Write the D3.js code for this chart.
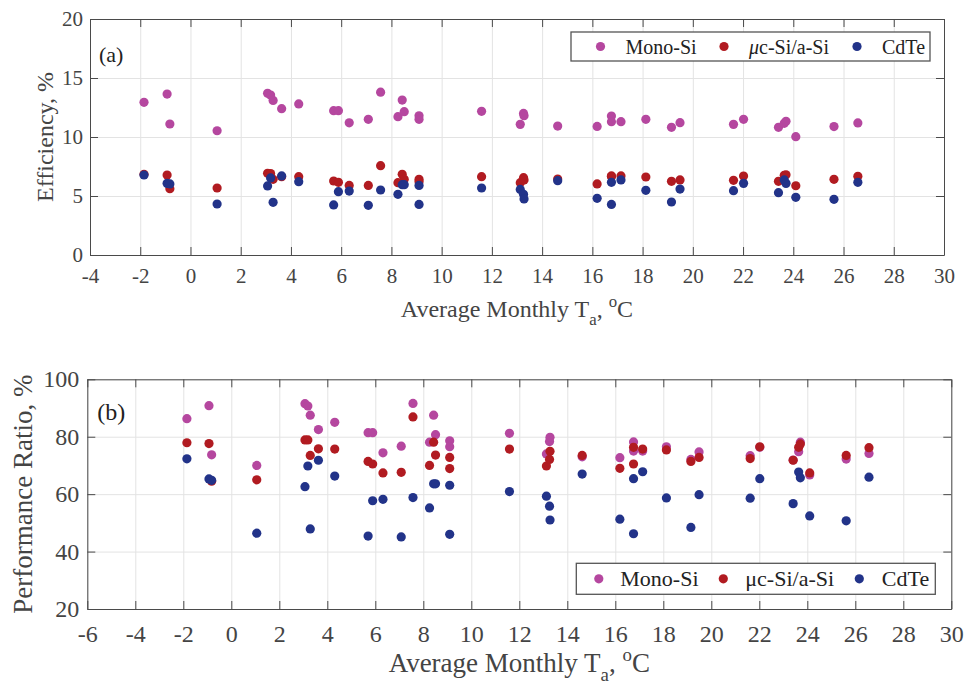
<!DOCTYPE html>
<html>
<head>
<meta charset="utf-8">
<script src="https://cdn.jsdelivr.net/npm/d3@7"></script>
<style>
  body { margin: 0; background: #fff; }
  svg, svg text { font-family: "Liberation Serif", "Times New Roman", serif; }
  .grid line { stroke: #e3e3e3; stroke-width: 1; }
  .grid path { display: none; }
  .axis path, .axis line { stroke: #4a4a4a; stroke-width: 1; }
  .axis text { fill: #444; }
</style>
</head>
<body>
<div id="chart"></div>
<script>
// average monthly ambient temperature, degC (shared by both panels)
const tempA = [-1.85, -0.93, -0.82, 1.06, 3.07, 3.19, 3.29, 3.63, 4.31, 5.70, 5.89, 6.32, 7.08,
  7.57, 8.26, 8.43, 8.51, 9.10, 9.10, 11.59, 13.13, 13.26, 13.28, 14.62, 16.19, 16.76, 16.76,
  17.14, 18.13, 19.15, 19.49, 21.62, 22.02, 23.41, 23.64, 23.71, 24.10, 25.62, 26.57];

// (a) efficiency, %
const effMono = [12.94, 13.64, 11.10, 10.53, 13.70, 13.56, 13.10, 12.40, 12.80, 12.23, 12.23, 11.20, 11.50,
  13.80, 11.72, 13.13, 12.15, 11.80, 11.50, 12.18, 11.07, 12.00, 11.80, 10.93, 10.90, 11.78, 11.30,
  11.30, 11.50, 10.82, 11.21, 11.07, 11.50, 10.82, 11.16, 11.33, 10.03, 10.88, 11.19];
const effMicro = [6.84, 6.78, 5.62, 5.68, 6.92, 6.90, 6.41, 6.64, 6.64, 6.27, 6.16, 5.90, 5.90,
  7.57, 6.13, 6.84, 6.41, 6.41, 6.21, 6.64, 6.13, 6.55, 6.36, 6.44, 6.02, 6.70, 6.65,
  6.70, 6.61, 6.24, 6.36, 6.33, 6.69, 6.24, 6.75, 6.80, 5.87, 6.41, 6.67];
const effCdTe = [6.78, 6.07, 6.02, 4.32, 5.85, 6.53, 4.46, 6.70, 6.21, 4.24, 5.37, 5.42, 4.21,
  5.51, 5.14, 5.96, 5.96, 5.90, 4.29, 5.68, 5.56, 5.14, 4.75, 6.30, 4.80, 6.16, 4.29,
  6.36, 5.48, 4.49, 5.59, 5.45, 6.07, 5.28, 6.36, 6.07, 4.89, 4.72, 6.16];

// (b) performance ratio, %
const prMono = [86.3, 90.8, 73.7, 70.0, 91.5, 90.7, 87.5, 82.5, 85.0, 81.4, 81.4, 74.4, 76.7,
  91.6, 78.1, 87.5, 80.7, 78.6, 76.5, 81.2, 74.0, 78.3, 79.8, 73.0, 72.7, 78.2, 75.0,
  75.0, 76.5, 72.1, 74.7, 73.4, 76.3, 71.9, 74.8, 78.1, 66.7, 72.2, 74.2];
const prMicro = [77.9, 77.6, 64.5, 65.0, 78.9, 78.9, 73.5, 75.8, 75.7, 71.4, 70.5, 67.4, 67.6,
  86.9, 70.0, 78.1, 73.6, 72.8, 68.9, 75.7, 69.8, 72.1, 74.9, 73.5, 69.0, 76.3, 70.5,
  75.7, 75.4, 71.4, 72.8, 72.4, 76.5, 71.8, 76.3, 77.5, 67.4, 73.5, 76.2];
const prCdTe = [72.3, 65.3, 64.8, 46.4, 62.6, 69.8, 47.9, 71.8, 66.3, 45.4, 57.7, 58.2, 45.1,
  58.8, 55.2, 63.6, 63.6, 63.1, 46.0, 60.9, 59.3, 55.8, 51.0, 67.0, 51.3, 65.4, 46.2,
  67.8, 58.7, 48.4, 59.8, 58.6, 65.4, 56.7, 67.7, 65.7, 52.4, 50.7, 65.9];

const seriesNames = ['Mono-Si', 'μc-Si/a-Si', 'CdTe'];
const seriesColors = ['#b5479f', '#b11b21', '#223389'];

const xTicksA = [-4, -2, 0, 2, 4, 6, 8, 10, 12, 14, 16, 18, 20, 22, 24, 26, 28, 30];
const yTicksA = [0, 5, 10, 15, 20];
const xTicksB = [-6, -4, -2, 0, 2, 4, 6, 8, 10, 12, 14, 16, 18, 20, 22, 24, 26, 28, 30];
const yTicksB = [20, 40, 60, 80, 100];

const serif = '"Liberation Serif", "Times New Roman", serif';

const svg = d3.select('#chart').append('svg')
  .attr('width', 965)
  .attr('height', 686);

class ScatterPanel {
  constructor(_config, _series) {
    this.config = _config;
    this.series = _series;
    this.initVis();
  }

  initVis() {
    let vis = this;
    const c = vis.config;

    vis.chart = svg.append('g')
      .attr('transform', `translate(${c.left},${c.top})`);

    vis.xScale = d3.scaleLinear().domain(c.xDomain).range([0, c.width]);
    vis.yScale = d3.scaleLinear().domain(c.yDomain).range([c.height, 0]);

    // grid
    vis.chart.append('g').attr('class', 'grid')
      .attr('transform', `translate(0,${c.height})`)
      .call(d3.axisBottom(vis.xScale).tickValues(c.xTicks).tickSize(-c.height).tickFormat(''));
    vis.chart.append('g').attr('class', 'grid')
      .call(d3.axisLeft(vis.yScale).tickValues(c.yTicks).tickSize(-c.width).tickFormat(''));

    vis.renderVis();
  }

  renderVis() {
    let vis = this;
    const c = vis.config;

    vis.series.forEach((s, i) => {
      vis.chart.append('g').selectAll('circle')
        .data(tempA.map((t, j) => ({t: t, v: s[j]})))
        .join('circle')
        .attr('cx', d => vis.xScale(d.t))
        .attr('cy', d => vis.yScale(d.v))
        .attr('r', c.r)
        .attr('fill', seriesColors[i]);
    });

    // box axes with inward ticks, plain hyphen for negatives
    const tk = 8;
    const fmt = d => String(d);
    const bottom = vis.chart.append('g').attr('class', 'axis')
      .attr('transform', `translate(0,${c.height})`)
      .call(d3.axisBottom(vis.xScale).tickValues(c.xTicks).tickSizeInner(-tk).tickSizeOuter(0)
        .tickPadding(c.xPad).tickFormat(fmt));
    vis.chart.append('g').attr('class', 'axis')
      .call(d3.axisTop(vis.xScale).tickValues(c.xTicks).tickSizeInner(-tk).tickSizeOuter(0).tickFormat(''));
    const left = vis.chart.append('g').attr('class', 'axis')
      .call(d3.axisLeft(vis.yScale).tickValues(c.yTicks).tickSizeInner(-tk).tickSizeOuter(0)
        .tickPadding(c.yPad).tickFormat(fmt));
    vis.chart.append('g').attr('class', 'axis')
      .attr('transform', `translate(${c.width},0)`)
      .call(d3.axisRight(vis.yScale).tickValues(c.yTicks).tickSizeInner(-tk).tickSizeOuter(0).tickFormat(''));
    [bottom, left].forEach(g => {
      g.attr('font-family', serif).attr('font-size', c.tickFont);
      g.selectAll('text').style('font-family', serif);
    });

    // panel tag
    vis.chart.append('text')
      .attr('x', c.tagX).attr('y', c.tagY)
      .attr('font-size', c.tagFont)
      .attr('fill', '#222')
      .text(c.tag);

    // y label
    vis.chart.append('text')
      .attr('transform', `translate(${c.yLabelX},${c.height / 2}) rotate(-90)`)
      .attr('text-anchor', 'middle')
      .attr('font-size', c.labelFont)
      .attr('fill', '#444')
      .text(c.yLabel);

    // x label with sub/superscript
    const f = c.labelFont;
    const xl = vis.chart.append('text')
      .attr('x', c.width / 2)
      .attr('y', c.height + c.xLabelY)
      .attr('text-anchor', 'middle')
      .attr('font-size', f)
      .attr('fill', '#444');
    xl.append('tspan').text('Average Monthly T');
    xl.append('tspan').attr('font-size', f * 0.7).attr('dy', f * 0.33).text('a');
    xl.append('tspan').attr('dy', -f * 0.33).text(', ');
    xl.append('tspan').attr('font-size', f * 0.7).attr('dy', -f * 0.42).text('o');
    xl.append('tspan').attr('dy', f * 0.42).text('C');

    // legend
    const L = c.legend;
    const lg = vis.chart.append('g').attr('transform', `translate(${L.x},${L.y})`);
    lg.append('rect')
      .attr('width', L.w).attr('height', L.h)
      .attr('fill', '#fff')
      .attr('stroke', '#555')
      .attr('stroke-width', 1.3);
    seriesNames.forEach((name, i) => {
      lg.append('circle')
        .attr('cx', L.markX[i]).attr('cy', L.h / 2)
        .attr('r', c.r)
        .attr('fill', seriesColors[i]);
      const t = lg.append('text')
        .attr('x', L.textX[i]).attr('y', L.h / 2)
        .attr('dy', '0.35em')
        .attr('font-size', L.font)
        .attr('fill', '#222');
      if (i === 1 && L.italicMu) {
        t.append('tspan').attr('font-style', 'italic').text('μ');
        t.append('tspan').text('c-Si/a-Si');
      } else {
        t.text(name);
      }
    });
  }
}

new ScatterPanel({
  left: 90, top: 19, width: 854, height: 236,
  xDomain: [-4, 30], yDomain: [0, 20],
  xTicks: xTicksA, yTicks: yTicksA,
  xPad: 13, yPad: 7, tickFont: 21, r: 4.6,
  tag: '(a)', tagX: 9, tagY: 43, tagFont: 22,
  yLabel: 'Efficiency, %', yLabelX: -37, labelFont: 24,
  xLabelY: 62,
  legend: {x: 481, y: 13, w: 359, h: 29, font: 20, italicMu: true,
    markX: [29.5, 153, 286], textX: [54.5, 178, 311]}
}, [effMono, effMicro, effCdTe]);

new ScatterPanel({
  left: 87.3, top: 379.3, width: 864, height: 229.7,
  xDomain: [-6, 30], yDomain: [20, 100],
  xTicks: xTicksB, yTicks: yTicksB,
  xPad: 16, yPad: 8, tickFont: 24, r: 4.6,
  tag: '(b)', tagX: 10, tagY: 41, tagFont: 24,
  yLabel: 'Performance Ratio, %', yLabelX: -55, labelFont: 27,
  xLabelY: 63,
  legend: {x: 489, y: 184, w: 359, h: 31, font: 22, italicMu: false,
    markX: [22.5, 147, 283], textX: [44, 169, 305.5]}
}, [prMono, prMicro, prCdTe]);
</script>
</body>
</html>
